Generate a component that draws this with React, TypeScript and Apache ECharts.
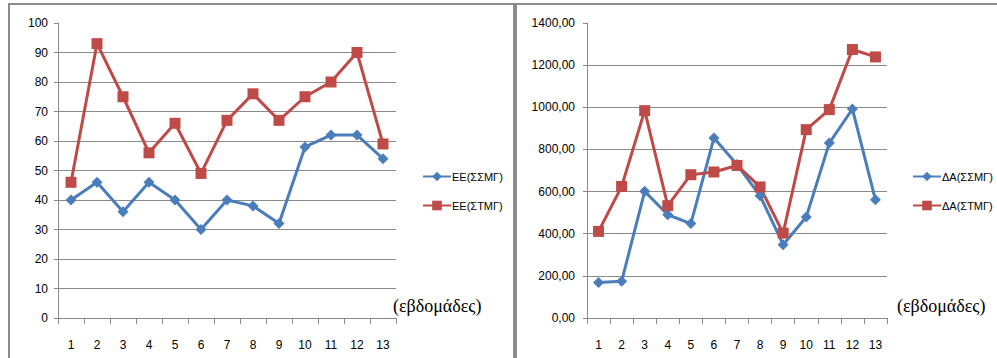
import React, { useEffect, useRef } from "react";
import * as echarts from "echarts";

const weeks = ["1", "2", "3", "4", "5", "6", "7", "8", "9", "10", "11", "12", "13"];
const eeSSMG = [40, 46, 36, 46, 40, 30, 40, 38, 32, 58, 62, 62, 54];
const eeSTMG = [46, 93, 75, 56, 66, 49, 67, 76, 67, 75, 80, 90, 59];
const daSSMG = [169, 174, 601, 490, 448, 854, 728, 580, 348, 479, 830, 992, 561];
const daSTMG = [411, 624, 984, 533, 680, 693, 724, 622, 403, 894, 989, 1274, 1239];
const leftNames = ["ΕΕ(ΣΣΜΓ)", "ΕΕ(ΣΤΜΓ)"];
const rightNames = ["ΔΑ(ΣΣΜΓ)", "ΔΑ(ΣΤΜΓ)"];
const xTitle = "(εβδομάδες)";

const BLUE = "#4A7EBB";
const RED = "#BE4B48";
const GRID = "#8a8a8a";
const FONT = "'Liberation Sans', Arial, sans-serif";
const SERIF = "'Liberation Serif', 'Times New Roman', serif";

export default function App() {
  const ref = useRef<HTMLDivElement>(null);
  useEffect(() => {
    if (!ref.current) return;
    const chart = echarts.init(ref.current, undefined, { renderer: "svg" });
    const xAxisBase = (gridIndex: number) => ({
      type: "category" as const,
      gridIndex,
      data: weeks,
      boundaryGap: true,
      axisLine: { lineStyle: { color: GRID, width: 1 } },
      axisTick: { show: true, length: 6, lineStyle: { color: GRID } },
      axisLabel: { color: "#000", fontSize: 12, fontFamily: FONT, margin: 21 },
      splitLine: { show: false },
    });
    const yAxisBase = (gridIndex: number, max: number, interval: number, fmt: (v: number) => string, margin: number) => ({
      type: "value" as const,
      gridIndex,
      min: 0,
      max,
      interval,
      axisLine: { show: true, lineStyle: { color: GRID, width: 1 } },
      axisTick: { show: true, length: 4, lineStyle: { color: GRID } },
      axisLabel: { color: "#000", fontSize: 12, fontFamily: FONT, margin, formatter: fmt },
      splitLine: { show: true, showMaxLine: false, lineStyle: { color: GRID, width: 1 } },
    });
    const lineSeries = (name: string, data: number[], color: string, symbol: string, size: number, idx: number) => ({
      type: "line" as const,
      name,
      data,
      xAxisIndex: idx,
      yAxisIndex: idx,
      symbol,
      symbolSize: size,
      showAllSymbol: true,
      lineStyle: { color, width: 3 },
      itemStyle: { color },
    });
    const legendBase = (names: string[], left: number) => ({
      data: names,
      orient: "vertical" as const,
      left,
      top: 166,
      itemWidth: 28,
      itemHeight: 12,
      itemGap: 18,
      textStyle: { color: "#000", fontSize: 11, fontFamily: FONT, padding: [0, 0, 0, -4] },
    });
    chart.setOption({
      animation: false,
      backgroundColor: "#fff",
      grid: [
        { left: 58, top: 23, width: 338, height: 295 },
        { left: 587, top: 23, width: 300, height: 295 },
      ],
      xAxis: [xAxisBase(0), xAxisBase(1)],
      yAxis: [
        yAxisBase(0, 100, 10, (v: number) => String(v), 10),
        yAxisBase(1, 1400, 200, (v: number) => v.toFixed(2).replace(".", ","), 12),
      ],
      legend: [legendBase(leftNames, 417), legendBase(rightNames, 907)],
      series: [
        lineSeries(leftNames[0], eeSSMG, BLUE, "diamond", 11, 0),
        lineSeries(leftNames[1], eeSTMG, RED, "rect", 11, 0),
        lineSeries(rightNames[0], daSSMG, BLUE, "diamond", 11, 1),
        lineSeries(rightNames[1], daSTMG, RED, "rect", 11, 1),
      ],
      graphic: [
        {
          type: "rect",
          shape: { x: 9, y: 4, width: 505, height: 370 },
          style: { fill: "none", stroke: "#8c8c8c", lineWidth: 2 },
          silent: true,
        },
        {
          type: "rect",
          shape: { x: 516, y: 4, width: 500, height: 370 },
          style: { fill: "none", stroke: "#8c8c8c", lineWidth: 2 },
          silent: true,
        },
        {
          type: "text",
          x: 393,
          y: 297,
          style: { text: xTitle, fontSize: 18, fontFamily: SERIF, fill: "#000" },
        },
        {
          type: "text",
          x: 897,
          y: 297,
          style: { text: xTitle, fontSize: 18, fontFamily: SERIF, fill: "#000" },
        },
      ],
    });
    return () => chart.dispose();
  }, []);
  return (
    <div
      ref={ref}
      style={{ position: "absolute", left: 0, top: 0, width: 997, height: 358 }}
    />
  );
}
